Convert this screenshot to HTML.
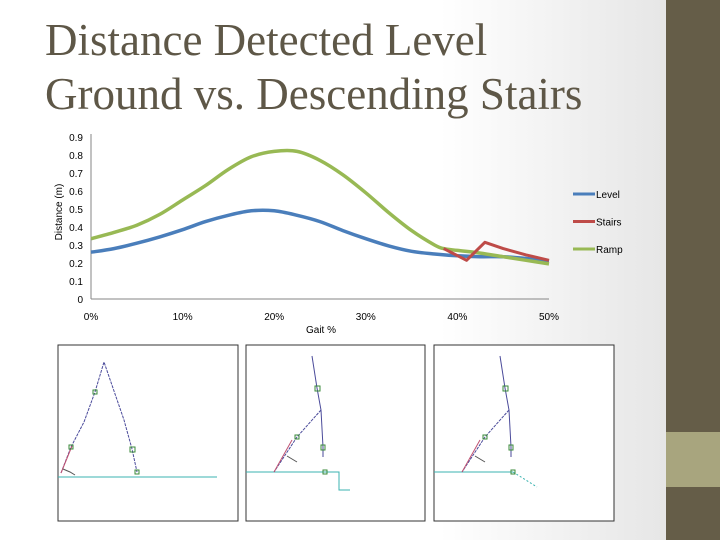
<!DOCTYPE html>
<html><head><meta charset="utf-8"><style>
html,body{margin:0;padding:0}
body{width:720px;height:540px;position:relative;overflow:hidden;background:linear-gradient(to right,#fff 0,#fff 440px,#e6e6e6 666px);font-family:"Liberation Sans",sans-serif}
#title{position:absolute;left:45px;top:13px;font-family:"Liberation Serif",serif;font-size:45px;line-height:54px;color:#5e5747;letter-spacing:0}
#bar{position:absolute;left:666px;top:0;width:54px;height:540px;background:#655d48}
#bar2{position:absolute;left:666px;top:432px;width:54px;height:55px;background:#a8a57e}
svg{position:absolute;left:0;top:0}
</style></head><body>
<div id="title">Distance Detected Level<br>Ground vs. Descending Stairs</div>
<div id="bar"></div>
<div id="bar2"></div>
<svg id="chart" width="720" height="540"></svg>
<svg id="figs" width="720" height="540">
 <g fill="#fff" stroke="#333" stroke-width="1">
  <rect x="58" y="345" width="180" height="176"/>
  <rect x="246" y="345" width="179" height="176"/>
  <rect x="434" y="345" width="180" height="176"/>
 </g>
 <g fill="none" stroke-width="1">
  <line x1="58" y1="477" x2="217" y2="477" stroke="#3bb3b0"/>
  <polyline points="61,473 71,447 84,422 95,392 104,362 114,391 124,420 132,449 137,472" stroke="#4a4a9a" stroke-dasharray="3,1"/>
  <line x1="61" y1="473" x2="72" y2="446" stroke="#c05070"/>
  <polyline points="63,469 70,472 75,475" stroke="#555"/>
  <g stroke="#3a8a3a"><rect x="93" y="390" width="4" height="4"/><rect x="69" y="445" width="4" height="4"/><rect x="130" y="447" width="5" height="5"/><rect x="135" y="470" width="4" height="4"/></g>
  <polyline points="246,472 339,472 339,490 350,490" stroke="#3bb3b0"/>
  <polyline points="312,356 317,388 321,410 323,447 323,457" stroke="#4a4a9a"/>
  <polyline points="321,410 297,437 274,472" stroke="#4a4a9a" stroke-dasharray="3,1"/>
  <line x1="274" y1="472" x2="292" y2="440" stroke="#c05070"/>
  <polyline points="287,456 297,462" stroke="#555"/>
  <g stroke="#3a8a3a"><rect x="315" y="386" width="5" height="5"/><rect x="295" y="435" width="4" height="4"/><rect x="321" y="445" width="4" height="5"/><rect x="323" y="470" width="4" height="4"/></g>
  <line x1="434" y1="472" x2="513" y2="472" stroke="#3bb3b0"/>
  <line x1="513" y1="472" x2="537" y2="487" stroke="#3bb3b0" stroke-dasharray="2,2"/>
  <polyline points="500,356 505,388 509,410 511,447 511,457" stroke="#4a4a9a"/>
  <polyline points="509,410 485,437 462,472" stroke="#4a4a9a" stroke-dasharray="3,1"/>
  <line x1="462" y1="472" x2="480" y2="440" stroke="#c05070"/>
  <polyline points="475,456 485,462" stroke="#555"/>
  <g stroke="#3a8a3a"><rect x="503" y="386" width="5" height="5"/><rect x="483" y="435" width="4" height="4"/><rect x="509" y="445" width="4" height="5"/><rect x="511" y="470" width="4" height="4"/></g>
 </g>
</svg>
<script>
const levelX=[0,2.5,5,7.5,10,12.5,15,17.5,20,22.5,25,27.5,30,32.5,35,37.5,40,42.5,45,47.5,50];
const levelY=[0.26,0.28,0.31,0.345,0.385,0.43,0.465,0.49,0.49,0.465,0.43,0.38,0.335,0.295,0.265,0.25,0.24,0.235,0.235,0.225,0.21];
const rampX=[0,2.5,5,7.5,10,12.5,15,17.5,20,22.5,25,27.5,30,32.5,35,37.5,38.5,40,42.5,45,47.5,50];
const rampY=[0.335,0.37,0.41,0.47,0.55,0.63,0.72,0.79,0.82,0.82,0.77,0.69,0.59,0.48,0.38,0.3,0.28,0.27,0.255,0.235,0.215,0.195];
const stairsX=[38.5,41,43,45,47.5,50];
const stairsY=[0.28,0.215,0.315,0.28,0.245,0.215];
const yTicks=[0,0.1,0.2,0.3,0.4,0.5,0.6,0.7,0.8,0.9];
const xTicks=[0,10,20,30,40,50];
const legendNames=["Level","Stairs","Ramp"];
const colors=["#4a7ebb","#be4b48","#98b954"];
const NS="http://www.w3.org/2000/svg";
const svg=document.getElementById('chart');
const X0=91,X1=549,Y0=299,YT=137;
function sx(v){return X0+(X1-X0)*v/50;}
function sy(v){return Y0-(Y0-YT)*v/0.9;}
function mk(t,a){const e=document.createElementNS(NS,t);for(const k in a)e.setAttribute(k,a[k]);svg.appendChild(e);return e;}
let ax=mk('line',{x1:X0,y1:YT-3,x2:X0,y2:Y0,stroke:'#868686'});


let bx=mk('line',{x1:X0,y1:Y0,x2:X1,y2:Y0,stroke:'#868686'});


yTicks.forEach(v=>{const t=mk('text',{x:83,y:sy(v)+4,'text-anchor':'end','font-size':'10',fill:'#000'});t.textContent=String(v);

});
xTicks.forEach(v=>{const t=mk('text',{x:sx(v),y:320,'text-anchor':'middle','font-size':'10',fill:'#000'});t.textContent=v+'%';

});
let xt=mk('text',{x:321,y:333,'text-anchor':'middle','font-size':'10'});xt.textContent='Gait %';


let yt=mk('text',{x:0,y:0,'text-anchor':'middle','font-size':'10',transform:'translate(62,212) rotate(-90)'});yt.textContent='Distance (m)';


function smooth(xs,ys){const p=xs.map((x,i)=>[sx(x),sy(ys[i])]);let d='M'+p[0][0]+','+p[0][1];
for(let i=0;i<p.length-1;i++){const a=p[i-1]||p[i],b=p[i],c=p[i+1],e=p[i+2]||c;
d+=' C'+(b[0]+(c[0]-a[0])/6)+','+(b[1]+(c[1]-a[1])/6)+' '+(c[0]-(e[0]-b[0])/6)+','+(c[1]-(e[1]-b[1])/6)+' '+c[0]+','+c[1];}return d;}
function lin(xs,ys){return xs.map((x,i)=>(i?'L':'M')+sx(x)+','+sy(ys[i])).join(' ');}
let l1=mk('path',{d:smooth(levelX,levelY),fill:'none',stroke:colors[0],'stroke-width':3.5});


let l3=mk('path',{d:smooth(rampX,rampY),fill:'none',stroke:colors[2],'stroke-width':3.5});


let l2=mk('path',{d:lin(stairsX,stairsY),fill:'none',stroke:colors[1],'stroke-width':3,'stroke-linejoin':'round'});


legendNames.forEach((n,i)=>{const y=194+i*27.5;
const ln=mk('line',{x1:573,y1:y,x2:595,y2:y,stroke:colors[i],'stroke-width':3});


const t=mk('text',{x:596,y:y+4,'font-size':'10'});t.textContent=n;

});
</script>
</body></html>
